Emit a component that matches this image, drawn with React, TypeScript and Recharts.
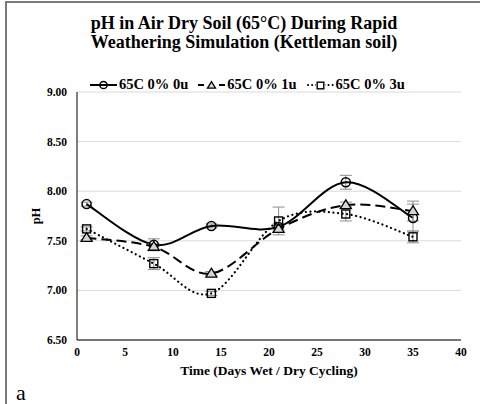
import React from 'react';
import { LineChart, Line, XAxis, YAxis, CartesianGrid, ErrorBar, Legend } from 'recharts';

const days = [1, 8, 14, 21, 28, 35];
const ph0u = [7.87, 7.46, 7.65, 7.64, 8.09, 7.73];
const ph1u = [7.53, 7.44, 7.17, 7.62, 7.86, 7.80];
const ph3u = [7.62, 7.27, 6.97, 7.70, 7.77, 7.54];
const err0u = [0.02, 0.06, 0.02, 0.03, 0.07, 0.14];
const err1u = [0.02, 0.03, 0.02, 0.03, 0.03, 0.10];
const err3u = [0.02, 0.06, 0.02, 0.14, 0.07, 0.06];
const xTicks = [0, 5, 10, 15, 20, 25, 30, 35, 40];
const yTicks = [6.5, 7.0, 7.5, 8.0, 8.5, 9.0];
const seriesNames = ['65C 0% 0u', '65C 0% 1u', '65C 0% 3u'];

const data = days.map((d, i) => ({
  day: d,
  s0: ph0u[i],
  s1: ph1u[i],
  s3: ph3u[i],
  e0: err0u[i],
  e1: err1u[i],
  e3: err3u[i],
}));

const SERIF = '"Liberation Serif", "Times New Roman", serif';

// Excel-like smoothed line (Catmull-Rom style Bezier)
const excelCurve = (context: any) => {
  let pts: number[][] = [];
  return {
    areaStart() {},
    areaEnd() {},
    lineStart() {
      pts = [];
    },
    point(x: number, y: number) {
      pts.push([+x, +y]);
    },
    lineEnd() {
      if (!pts.length) return;
      context.moveTo(pts[0][0], pts[0][1]);
      for (let i = 0; i < pts.length - 1; i++) {
        const p0 = pts[Math.max(i - 1, 0)];
        const p1 = pts[i];
        const p2 = pts[i + 1];
        const p3 = pts[Math.min(i + 2, pts.length - 1)];
        context.bezierCurveTo(
          p1[0] + (p2[0] - p0[0]) / 6,
          p1[1] + (p2[1] - p0[1]) / 6,
          p2[0] - (p3[0] - p1[0]) / 6,
          p2[1] - (p3[1] - p1[1]) / 6,
          p2[0],
          p2[1]
        );
      }
    },
  };
};

const CircleDot = (props: any) => {
  const { cx, cy, r = 4.5 } = props;
  if (cx == null || cy == null) return null;
  return <circle cx={cx} cy={cy} r={r} fill="none" stroke="#000" strokeWidth={1.5} />;
};
const TriDot = (props: any) => {
  const { cx, cy, s = 5.5 } = props;
  if (cx == null || cy == null) return null;
  const h = s * 1.6;
  return (
    <polygon
      points={`${cx},${cy - h * 0.6} ${cx - s},${cy + h * 0.4} ${cx + s},${cy + h * 0.4}`}
      fill="#d4d4d4"
      stroke="#000"
      strokeWidth={1.3}
    />
  );
};
const SqDot = (props: any) => {
  const { cx, cy, s = 4 } = props;
  if (cx == null || cy == null) return null;
  return <rect x={cx - s} y={cy - s} width={s * 2} height={s * 2} fill="none" stroke="#000" strokeWidth={1.4} />;
};

const legendIcons = [
  (
    <svg width={27} height={12} key="i0">
      <line x1={0} y1={6} x2={27} y2={6} stroke="#000" strokeWidth={2} />
      <CircleDot cx={13.5} cy={6} r={3.6} />
    </svg>
  ),
  (
    <svg width={27} height={12} key="i1">
      <line x1={0} y1={6} x2={27} y2={6} stroke="#000" strokeWidth={2} strokeDasharray="6 15 6" />
      <TriDot cx={13.5} cy={6.5} s={4} />
    </svg>
  ),
  (
    <svg width={27} height={12} key="i2">
      <line x1={1} y1={6} x2={27} y2={6} stroke="#000" strokeWidth={2} strokeDasharray="0.1 4" strokeLinecap="round" />
      <rect x={9} y={2} width={9} height={9} fill="#fff" />
      <SqDot cx={13.5} cy={6.5} s={3.3} />
    </svg>
  ),
];

const renderLegend = () => (
  <div style={{ display: 'flex', alignItems: 'center', fontFamily: SERIF, fontWeight: 'bold', fontSize: 14.5, color: '#000' }}>
    {seriesNames.map((n, i) => (
      <div key={n} style={{ display: 'flex', alignItems: 'center', marginRight: i < 2 ? 10 : 0 }}>
        {legendIcons[i]}
        <span style={{ marginLeft: 2, whiteSpace: 'nowrap' }}>{n}</span>
      </div>
    ))}
  </div>
);

const tickStyle = { fontFamily: SERIF, fontWeight: 'bold', fontSize: 11.5, fill: '#000' };

export default function App() {
  return (
    <div style={{ position: 'absolute', left: 0, top: 0, width: 480, height: 404, background: '#fff', overflow: 'hidden', fontFamily: SERIF }}>
      <div style={{ position: 'absolute', left: 5, top: 1, width: 480, height: 410, borderTop: '2px solid #7a7a7a', borderLeft: '2px solid #7a7a7a' }} />
      <div
        style={{
          position: 'absolute',
          left: 0,
          top: 14,
          width: 488,
          textAlign: 'center',
          fontWeight: 'bold',
          fontSize: 18,
          lineHeight: '19px',
          color: '#000',
        }}
      >
        pH in Air Dry Soil (65°C) During Rapid
        <br />
        Weathering Simulation (Kettleman soil)
      </div>
      <div style={{ position: 'absolute', left: 16, top: 380, fontSize: 22, color: '#000' }}>a</div>
      <div style={{ position: 'absolute', left: 0, top: 0 }}>
        <LineChart width={480} height={404} data={data} margin={{ top: 92, right: 19, bottom: 0, left: 0 }}>
          <CartesianGrid vertical={false} stroke="#d9d9d9" strokeWidth={1} />
          <XAxis
            type="number"
            dataKey="day"
            domain={[0, 40]}
            ticks={xTicks}
            interval={0}
            height={64}
            stroke="#000"
            axisLine={{ stroke: '#000', strokeWidth: 1 }}
            tickLine={false}
            tickSize={0}
            tickMargin={8}
            tick={tickStyle}
            label={{
              value: 'Time (Days Wet / Dry Cycling)',
              position: 'insideBottom',
              offset: 29,
              style: { fontFamily: SERIF, fontWeight: 'bold', fontSize: 13.5, fill: '#000' },
            }}
          />
          <YAxis
            type="number"
            domain={[6.5, 9]}
            ticks={yTicks}
            interval={0}
            width={77}
            axisLine={{ stroke: '#000', strokeWidth: 1 }}
            tickLine={false}
            tickSize={0}
            tickMargin={10}
            tick={tickStyle}
            tickFormatter={(v: number) => v.toFixed(2)}
            label={{
              value: 'pH',
              angle: -90,
              position: 'center',
              dx: -3,
              style: { fontFamily: SERIF, fontWeight: 'bold', fontSize: 12.5, fill: '#000' },
            }}
          />
          <Legend
            layout="horizontal"
            verticalAlign="middle"
            align="center"
            wrapperStyle={{ top: 76, left: 90, width: 'auto' }}
            content={renderLegend}
          />
          <Line
            dataKey="s0"
            name={seriesNames[0]}
            type={excelCurve as any}
            stroke="#000"
            strokeWidth={2}
            dot={(p: any) => <CircleDot key={`d0-${p.index}`} {...p} r={4.5} />}
            activeDot={false}
            isAnimationActive={false}
          >
            <ErrorBar dataKey="e0" width={6} stroke="#8c8c8c" strokeWidth={1} direction="y" />
          </Line>
          <Line
            dataKey="s1"
            name={seriesNames[1]}
            type={excelCurve as any}
            stroke="#000"
            strokeWidth={2}
            strokeDasharray="10 5"
            dot={(p: any) => <TriDot key={`d1-${p.index}`} {...p} s={5.5} />}
            activeDot={false}
            isAnimationActive={false}
          >
            <ErrorBar dataKey="e1" width={6} stroke="#8c8c8c" strokeWidth={1} direction="y" />
          </Line>
          <Line
            dataKey="s3"
            name={seriesNames[2]}
            type={excelCurve as any}
            stroke="#000"
            strokeWidth={2.2}
            strokeDasharray="0.1 4.5"
            strokeLinecap="round"
            dot={(p: any) => <SqDot key={`d3-${p.index}`} {...p} s={4} />}
            activeDot={false}
            isAnimationActive={false}
          >
            <ErrorBar dataKey="e3" width={6} stroke="#8c8c8c" strokeWidth={1} direction="y" />
          </Line>
        </LineChart>
      </div>
    </div>
  );
}
